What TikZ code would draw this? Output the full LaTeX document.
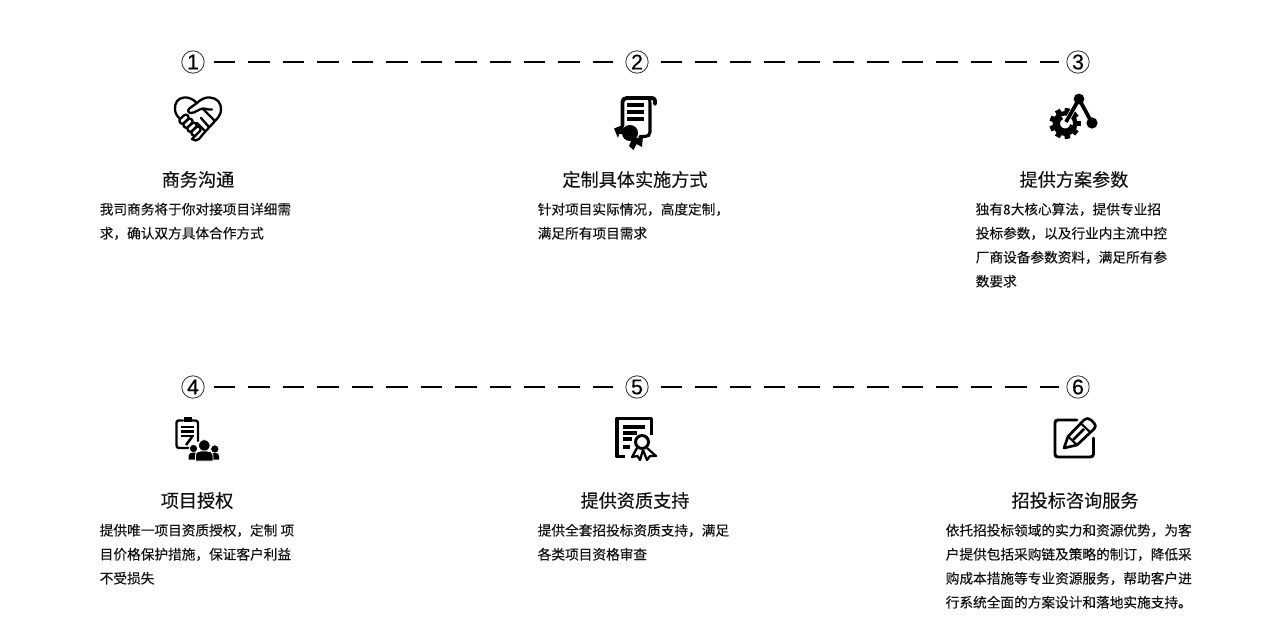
\documentclass[tikz,border=0pt]{standalone}
\usepackage{fontspec}
\usetikzlibrary{calc}
\setmainfont{Noto Sans CJK SC}[FakeBold=0.2]
\newfontfamily\digitfont{Liberation Sans}[FakeBold=0.4]
\definecolor{ink}{HTML}{111111}
\tikzset{
  num/.style={circle,draw=ink!85,line width=0.6pt,minimum size=16.8pt,inner sep=0pt,font=\digitfont\fontsize{16}{16}\selectfont,text=black},
  link/.style={draw=black,line width=1.5pt,dash pattern=on 16.1pt off 9.75pt},
  ttl/.style={inner sep=0pt,anchor=center,font=\fontsize{13.6}{16}\selectfont,text=ink},
  body/.style={inner sep=0pt,anchor=north west,align=left,font=\fontsize{10.25}{18}\selectfont,text=ink},
  ic/.style={draw=black,line width=1.75pt,line cap=round,line join=round,fill=none}
}
\begin{document}
\begin{tikzpicture}[x=0.75pt,y=-0.75pt]
\useasboundingbox[fill=white] (0,0) rectangle (1271,635);
% numbers
\node[num] (n1) at (193,62) {1};
\node[num] (n2) at (637,62) {2};
\node[num] (n3) at (1078,62) {3};
\node[num] (n4) at (193,387) {4};
\node[num] (n5) at (637,387) {5};
\node[num] (n6) at (1078,387) {6};
% connectors
\draw[link,shorten <=6.9pt,shorten >=9.5pt] (n1) -- (n2);
\draw[link,shorten <=9pt,shorten >=5.2pt] (n2) -- (n3);
\draw[link,shorten <=6.9pt,shorten >=9.5pt] (n4) -- (n5);
\draw[link,shorten <=9pt,shorten >=5.2pt] (n5) -- (n6);
% titles
\node[ttl] (t1) at (198,179.5) {商务沟通};
\node[ttl] (t2) at (635,179.5) {定制具体实施方式};
\node[ttl] (t3) at (1074,179.5) {提供方案参数};
\node[ttl] (t4) at (197,500.5) {项目授权};
\node[ttl] (t5) at (635,500.5) {提供资质支持};
\node[ttl] (t6) at (1075,500.5) {招投标咨询服务};
% bodies
\node[body] (b1) at (99.5,202.6) {我司商务将于你对接项目详细需\\求，确认双方具体合作方式};
\node[body] (b2) at (537.5,202.6) {针对项目实际情况，高度定制，\\满足所有项目需求};
\node[body] (b3) at (975.5,202.6) {独有8大核心算法，提供专业招\\投标参数，以及行业内主流中控\\厂商设备参数资料，满足所有参\\数要求};
\node[body] (b4) at (99.5,523.6) {提供唯一项目资质授权，定制 项\\目价格保护措施，保证客户利益\\不受损失};
\node[body] (b5) at (537.5,523.6) {提供全套招投标资质支持，满足\\各类项目资格审查};
\node[body] (b6) at (945.5,523.6) {依托招投标领域的实力和资源优势，为客\\户提供包括采购链及策略的制订，降低采\\购成本措施等专业资源服务，帮助客户进\\行系统全面的方案设计和落地实施支持。};
% icon 1: heart handshake
\draw[ic] (197,103) .. controls (192,98) and (187,97) .. (184,97.5) .. controls (178,98) and (174.5,103) .. (175,109) .. controls (175,113) and (177,116) .. (180,119);
\draw[ic] (190,108) -- (197,103) .. controls (201,99) and (206,97) .. (210,97.5) .. controls (217,98) and (221.5,103) .. (221,110) .. controls (221,114) and (218,118) .. (215,121) -- (204,133);
\draw[ic] (190,108) .. controls (187,110) and (188,113) .. (191,113) .. controls (195,113) and (199,109) .. (203,108.5) .. controls (206,108.5) and (208,110) .. (212,109.5);
\draw[ic] (203,109) -- (215,121);
\draw[ic] (209,127) -- (201,118);
\draw[ic] (205,131) -- (197,123);
\foreach \dx/\dy in {0/0,4/4,8/8,12/12}{
  \draw[ic] (180+\dx,119+\dy) -- (184.5+\dx,115+\dy) .. controls (187+\dx,113.5+\dy) and (190+\dx,117+\dy) .. (188+\dx,119+\dy) -- (183.5+\dx,123.5+\dy) .. controls (181+\dx,125+\dy) and (178+\dx,121+\dy) .. (180+\dx,119+\dy);
}
\draw[ic] (196,135) -- (192,139) .. controls (194,141) and (197,141) .. (199,139) -- (204,133);
% icon 2: scroll
\draw[line width=2.9pt,line cap=round,line join=round] (622.5,126) -- (622.5,102) .. controls (622.5,99.5) and (624,98) .. (627,98) -- (652,98) .. controls (654,98) and (655,99) .. (655,101) -- (655,104);
\draw[line width=2.3pt,line cap=round] (649,99) .. controls (650,100) and (650,102) .. (650,104) -- (650,132) .. controls (650,135) and (648,136.5) .. (645,136.5) -- (640,136.5);
\foreach \yy in {105,112,119}{\draw[line width=2.6pt] (627,\yy) -- (644,\yy);}
\fill (630,133) circle[radius=8];
\fill (614,128.5) -- (623,125) -- (625,134) -- (619,134) -- (618,138) -- cycle;
\fill (632,139) -- (643,136.5) -- (642,147) -- (636.5,144) -- (633.5,150) -- (629,146) -- cycle;
% icon 3: gear and graph
\foreach \a in {0,40,...,320}{\draw[line width=4.1pt] ($(1065,123.5)+(\a:10)$) -- ($(1065,123.5)+(\a:15.5)$);}
\fill[even odd rule] (1065,123.5) circle[radius=12.5] (1065,123.5) circle[radius=8];
\draw[line width=2.9pt] (1062,117.5) .. controls (1057,119) and (1056.5,127) .. (1061.5,129.5) .. controls (1066,132) and (1071,129.5) .. (1072,125);
\draw[white,line width=3.8pt] (1079,99) -- (1065,124);
\draw[line width=2.8pt] (1079,99) -- (1066,122);
\draw[line width=2.8pt] (1079,99) -- (1092,123);
\fill (1079,99) circle[radius=5.4];
\fill (1092,123) circle[radius=5.6];
% icon 4: clipboard with people
\draw[ic] (190,448) -- (179,448) .. controls (177,448) and (176.5,447) .. (176.5,445) -- (176.5,423) .. controls (176.5,421) and (177,420.5) .. (179,420.5) -- (183,420.5);
\draw[ic] (192,420.5) -- (195,420.5) .. controls (197,420.5) and (198,421) .. (198,423) -- (198,441);
\fill (183.5,417) rectangle (191.5,422);
\foreach \yy in {427,431.5,436}{\draw[line width=1.9pt] (180.5,\yy) -- (194,\yy);}
\draw[line width=1.9pt] (186,445) -- (192,437);
\fill[draw=white,line width=0.6pt] (193.5,448.5) circle[radius=4.2];
\fill[draw=white,line width=0.6pt] (214.8,449) circle[radius=4.2];
\fill (188.5,459.5) -- (188.5,456) .. controls (188.5,453.5) and (191,452.5) .. (193,452.5) -- (196,452.5) -- (196,459.5) -- cycle;
\fill (212,459.5) -- (212,453) -- (216,453) .. controls (218,453) and (219,454) .. (219,456.5) -- (219,459.5) -- cycle;
\fill[draw=white,line width=0.6pt] (204.3,445.5) circle[radius=5.8];
\fill[draw=white,line width=0.6pt] (195.5,461) -- (195.5,455) .. controls (195.5,452) and (199,451) .. (201,451) -- (207,451) .. controls (210,451) and (213,452) .. (213,455) -- (213,461) -- cycle;
% icon 5: certificate
\draw[line width=2.3pt,line join=round] (625,456.5) -- (617,456.5) -- (617,418.5) -- (651.5,418.5) -- (651.5,435);
\draw[line width=2.5pt] (623,427) -- (645,427);
\draw[line width=2.5pt] (623,433) -- (637,433);
\draw[line width=2.5pt] (623,439) -- (632,439);
\draw[line width=2.5pt] (623,447) -- (630,447);
\draw[line width=2.2pt] (642,442) circle[radius=6.5];
\draw[line width=1.7pt,line join=round] (637,448) -- (632,457) -- (637.5,456) -- (640,460) -- (643,450);
\draw[line width=1.7pt,line join=round] (647,448) -- (656,456) -- (650,456) -- (647,460) -- (643,450);
% icon 6: note with pencil
\draw[line width=2.2pt,line cap=round,line join=round] (1077,420) -- (1058,420) .. controls (1056,420) and (1055,421) .. (1055,423) -- (1055,454) .. controls (1055,456) and (1056,457) .. (1058,457) -- (1090,457) .. controls (1092,457) and (1093.5,456) .. (1093.5,454) -- (1093.5,438);
\draw[line width=2pt,line join=round] (1064,448) -- (1068,436.5) -- (1084,420) .. controls (1087,418) and (1089,418) .. (1091,420) -- (1094,423) .. controls (1096,425) and (1096,427) .. (1094,429) -- (1077,445) -- cycle;
\draw[line width=1.5pt] (1068,436.5) -- (1077,445);
\draw[line width=1.5pt] (1081,423.5) -- (1090.5,432.5);
\draw[line width=1.9pt] (1073,440) -- (1084,429);
\end{tikzpicture}
\end{document}
